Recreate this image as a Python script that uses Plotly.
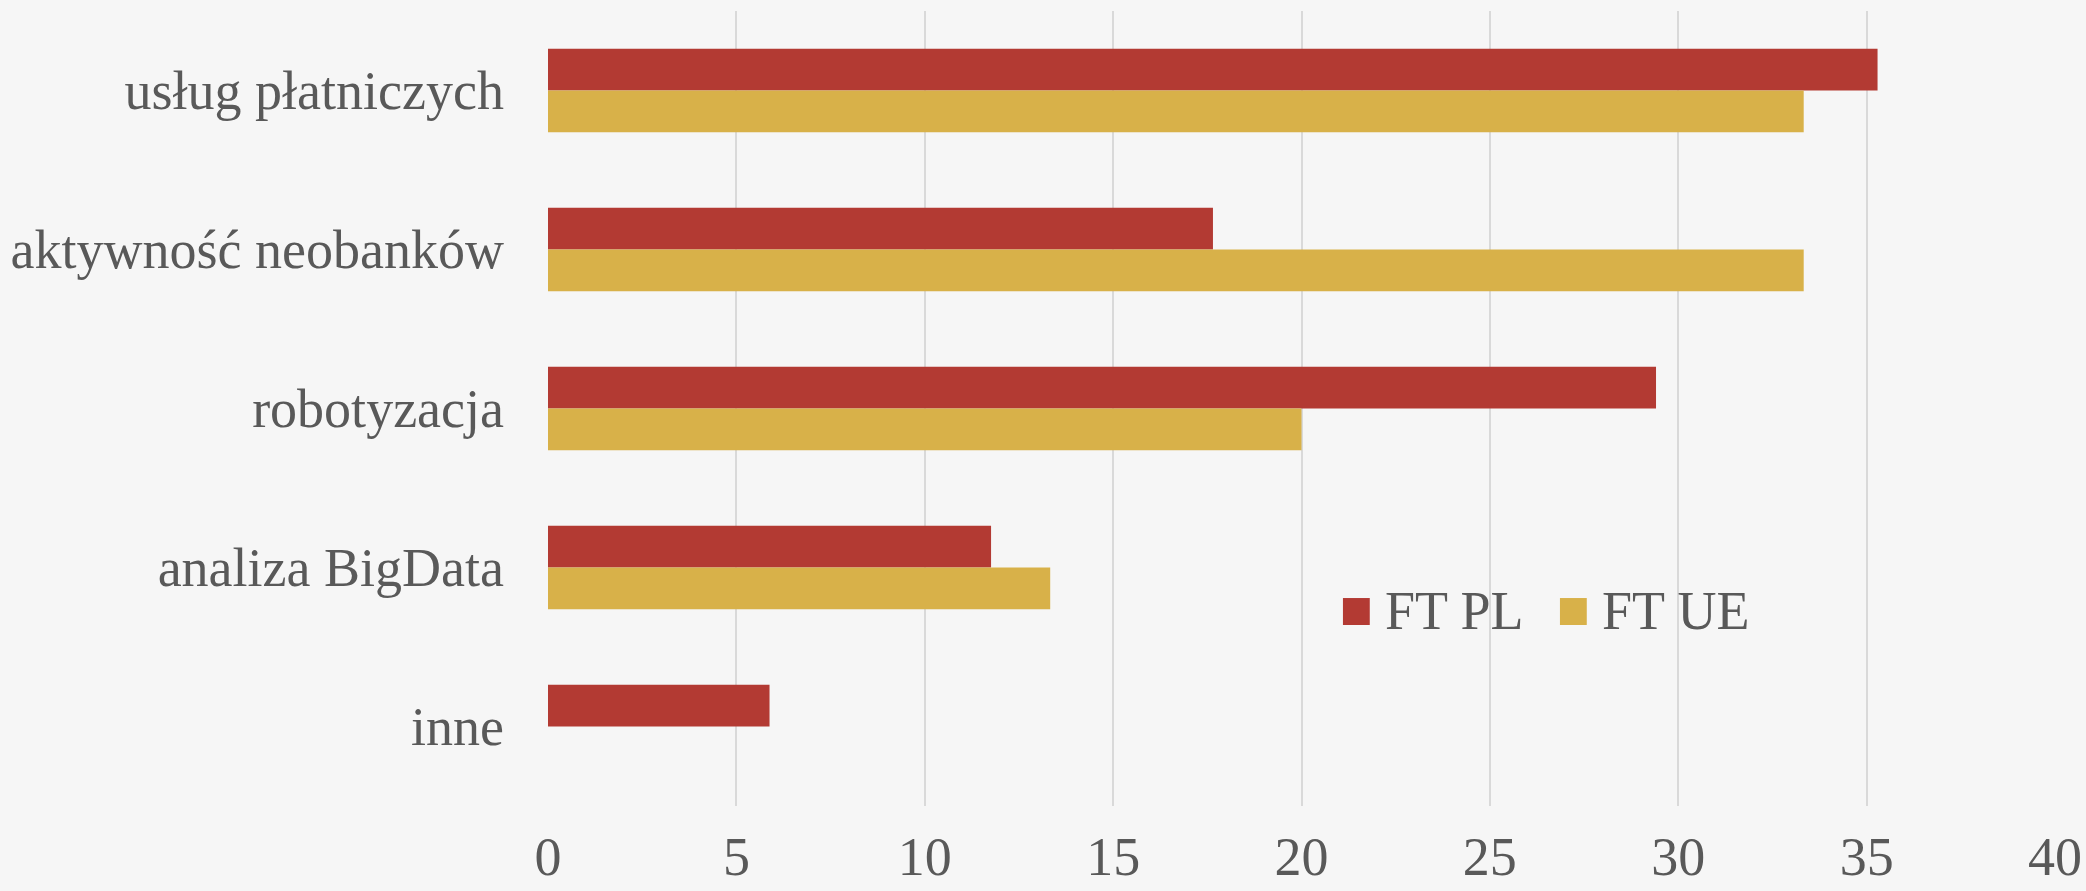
import plotly.graph_objects as go

categories = ["usług płatniczych", "aktywność neobanków", "robotyzacja", "analiza BigData", "inne"]
ft_pl = [35.29, 17.65, 29.41, 11.76, 5.88]
ft_ue = [33.33, 33.33, 20.0, 13.33, 0.0]
series_names = ["FT PL", "FT UE"]
x_ticks = [0, 5, 10, 15, 20, 25, 30, 35, 40]

RED = "#B33A33"
GOLD = "#D8B149"
TXT = "#595959"
BG = "#f6f6f6"
FONT = "Liberation Serif, Times New Roman, serif"

fig = go.Figure()
fig.add_trace(go.Bar(y=categories, x=ft_pl, name=series_names[0], orientation="h",
                     marker=dict(color=RED, line=dict(width=0)), showlegend=False))
fig.add_trace(go.Bar(y=categories, x=ft_ue, name=series_names[1], orientation="h",
                     marker=dict(color=GOLD, line=dict(width=0)), showlegend=False))

# legend drawn as shapes + text (large swatches as in reference)
legend_items = [(0.5275, RED, series_names[0]), (0.6715, GOLD, series_names[1])]
for x0, col, name in legend_items:
    fig.add_shape(type="rect", xref="paper", yref="paper", x0=x0, x1=x0 + 0.0178,
                  y0=0.2277, y1=0.2616, fillcolor=col, line=dict(width=0))
    fig.add_annotation(xref="paper", yref="paper", x=x0 + 0.0265, y=0.2447,
                       text=name, showarrow=False, xanchor="left", yanchor="middle",
                       font=dict(family=FONT, size=54, color=TXT))

fig.update_layout(
    width=2086, height=891,
    margin=dict(l=548, r=31, t=11, b=85),
    paper_bgcolor=BG, plot_bgcolor=BG,
    barmode="group", bargap=0.475, bargroupgap=0,
    font=dict(family=FONT, size=54, color=TXT),
    showlegend=False,
)
fig.update_xaxes(range=[0, 40], tickvals=x_ticks, showgrid=True, gridcolor="#d9d9d9",
                 gridwidth=1.5, zeroline=False, showline=False, ticks="", automargin=False,
                 ticklabelstandoff=14, tickfont=dict(family=FONT, size=54, color=TXT))
fig.update_yaxes(autorange="reversed", showgrid=False, zeroline=False, showline=False,
                 ticks="", automargin=False,
                 ticklabelstandoff=43, tickfont=dict(family=FONT, size=54, color=TXT))

fig.write_html("out.html", config={"displayModeBar": False},
               post_script="document.body.style.margin='0';document.body.style.overflow='hidden';document.body.style.background='" + BG + "';")
